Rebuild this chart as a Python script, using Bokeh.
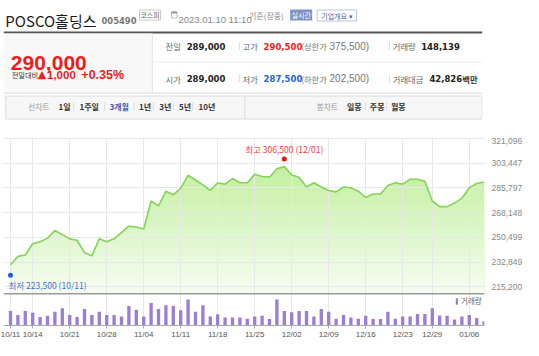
import numpy as np
from bokeh.plotting import figure
from bokeh.layouts import column
from bokeh.models import Range1d, FixedTicker, NumeralTickFormatter, Span, Legend, LegendItem
from bokeh.core.properties import value
from bokeh.embed import file_html
from bokeh.resources import INLINE

# ---------------- data ----------------
dates = ["10/11", "10/12", "10/13", "10/14", "10/17", "10/18", "10/19", "10/20", "10/21",
         "10/24", "10/25", "10/26", "10/27", "10/28", "10/31",
         "11/01", "11/02", "11/03", "11/04", "11/07", "11/08", "11/09", "11/10", "11/11",
         "11/14", "11/15", "11/16", "11/17", "11/18", "11/21", "11/22", "11/23", "11/24", "11/25",
         "11/28", "11/29", "11/30", "12/01", "12/02", "12/05", "12/06", "12/07", "12/08", "12/09",
         "12/12", "12/13", "12/14", "12/15", "12/16", "12/19", "12/20", "12/21", "12/22", "12/23",
         "12/26", "12/27", "12/28", "12/29", "01/02", "01/03", "01/04", "01/05", "01/06",
         "01/09", "01/10"]
close = [231000, 237000, 238000, 246000, 247500, 250000, 255500, 252500, 249500,
         248500, 239500, 237500, 249500, 247500, 249500,
         254000, 258500, 258000, 256500, 276500, 273000, 283500, 281000, 285500,
         295000, 291500, 288000, 284000, 289500, 288500, 292500, 289500, 289500, 295500,
         294000, 293500, 299500, 301000, 295000, 293500, 286500, 289500, 286500, 284000,
         283000, 286500, 286000, 283500, 279000, 281500, 281500, 287500, 289500, 288500,
         292000, 292000, 290500, 276500, 272500, 272500, 275000, 278500, 286000,
         289000, 290000]
volume = [517000, 379000, 517000, 458000, 300000, 345000, 493000, 620000, 379000,
          300000, 586000, 379000, 493000, 379000, 379000,
          320000, 699000, 562000, 320000, 803000, 586000, 723000, 699000, 541000,
          930000, 493000, 723000, 320000, 403000, 286000, 286000, 286000, 241000, 320000,
          345000, 231000, 930000, 517000, 472000, 517000, 517000, 320000, 586000, 493000,
          241000, 379000, 286000, 241000, 345000, 231000, 231000, 493000, 241000, 320000,
          320000, 413000, 413000, 620000, 355000, 345000, 217000, 320000, 379000,
          265000, 148139]
price_ticks = [215200, 232849, 250499, 268148, 285797, 303447, 321096]
date_tick_labels = ["10/11", "10/14", "10/21", "10/28", "11/04", "11/11", "11/18",
                    "11/25", "12/02", "12/09", "12/16", "12/23", "12/29", "01/06"]
hi_price, hi_date = 306500, "12/01"
lo_price, lo_date = 223500, "10/11"

stock_name, stock_code, market = "POSCO홀딩스", "005490", "코스피"
stamp_time, stamp_note = "2023.01.10 11:10", "기준(장중)"
cur_price, change, change_pct = 290000, 1000, 0.35
prev_close, open_price = 289000, 289000
day_high, upper_limit = 290500, 375500
day_low, lower_limit = 287500, 202500
trade_volume, trade_amount = 148139, 42826
period_tabs = ["1일", "1주일", "3개월", "1년", "3년", "5년", "10년"]
candle_tabs = ["일봉", "주봉", "월봉"]

# ---------------- styles ----------------
RED = "#f01c1c"
BLUE = "#1f63d6"
KFONT = "Noto Sans CJK KR"
NFONT = "Liberation Sans"
BFONT = "DejaVu Sans"
W = 523

# ---------------- header ----------------
HH = 137
p1 = figure(width=W, height=HH, x_range=Range1d(0, W), y_range=Range1d(HH, 0),
            x_axis_location=None, y_axis_location=None, min_border=0,
            output_backend="svg", toolbar_location=None, outline_line_color=None)
p1.grid.visible = False


def T(x, y, s, size, color, font=NFONT, style="normal", align="left", baseline="middle"):
    p1.text(x=[x], y=[y], text=[s], text_font=value(font), text_font_size=value(f"{size}px"),
            text_color=color, text_font_style=style, text_align=align, text_baseline=baseline)


def box(l, r, t, b, fill, line=None, lw=1):
    p1.quad(left=[l], right=[r], top=[t], bottom=[b], fill_color=fill,
            line_color=line, line_width=lw)


def seg(x0, y0, x1, y1, color, lw=1):
    p1.segment(x0=[x0], y0=[y0], x1=[x1], y1=[y1], line_color=color, line_width=lw)


# title row
T(2, 19.5, stock_name, 15, "#1a1a1a", font=KFONT, baseline="alphabetic")
T(107, 19.5, stock_code, 8.4, "#777", font=BFONT, style="bold", baseline="alphabetic")
box(148.5, 171.5, 9.5, 19.5, "white", "#c9c9c9")
T(160, 14.5, market, 7, "#666", font=KFONT, align="center")
box(183.5, 189.5, 11.5, 17.5, "white", "#bbbbbb")
seg(183.5, 12, 189.5, 12, "#999", 2)
T(191, 18.5, stamp_time, 9.5, "#888", baseline="alphabetic")
T(268, 14.5, stamp_note, 8, "#888", font=KFONT)
box(313, 337, 9, 20, "#8094c3", None)
T(325, 14.5, "실시간", 7, "white", font=KFONT, align="center")
box(342.5, 385.5, 9.5, 20.5, "white", "#b5c3e2")
T(364, 15, "기업개요 ▾", 7, "#4769b0", font=KFONT, align="center")

seg(0, 32, W, 32, "#555", 2)

# info box
box(0, 162.5, 33, 92, "#f8f8f8", None)
seg(162.5, 33, 162.5, 92, "#e2e2e2")
seg(163, 61.5, W, 61.5, "#ececec")
seg(0, 92.5, W, 92.5, "#d9d9d9")

T(8, 62, f"{cur_price:,}", 21, RED, style="bold", baseline="alphabetic")
T(9, 74, "전일대비", 7.2, "#333", font=KFONT)
T(37.5, 73.5, "▲", 11, RED, font=BFONT)
T(47.5, 74, f"{change:,}", 11.5, RED, style="bold")
seg(80.5, 69, 80.5, 78, "#dddddd")
T(85, 74, f"+{change_pct:.2f}%", 12.5, RED, style="bold")

rows = [
    (45.5, "전일", prev_close, "고가", day_high, RED, "상한가", upper_limit, "거래량", trade_volume, ""),
    (78.0, "시가", open_price, "저가", day_low, BLUE, "하한가", lower_limit, "거래대금", trade_amount, "백만"),
]
for (yy, l1, v1, l2, v2, c2, l3, v3, l4, v4, unit) in rows:
    T(177, yy, l1, 8.3, "#666", font=KFONT)
    T(200, yy, f"{v1:,}", 8.5, "#222", font=BFONT, style="bold")
    seg(257.5, yy - 4, 257.5, yy + 4, "#dddddd")
    T(261, yy, l2, 8.3, "#666", font=KFONT)
    T(284, yy, f"{v2:,}", 8.5, c2, font=BFONT, style="bold")
    T(325, yy, f"({l3}", 8.3, "#777", font=KFONT)
    T(356, yy, f"{v3:,})", 10, "#777")
    seg(421.5, yy - 4, 421.5, yy + 4, "#dddddd")
    T(425, yy, l4, 8.3, "#666", font=KFONT)
    vx = 456 if not unit else 465
    T(vx, yy, f"{v4:,}", 8.5, "#222", font=BFONT, style="bold")
    if unit:
        T(501, yy, unit, 8.3, "#333", font=KFONT, style="bold")

# tab bar
box(2.5, W - 0.5, 95.5, 118.5, "#f7f7f7", "#dcdcdc")
TY = 106
T(26.7, TY, "선차트", 7.8, "#999", font=KFONT)
tab_x = [60, 83, 115.7, 148, 170, 191.7, 213]
sep_x = [76.5, 110.5, 142.5, 163.5, 185.5, 206.5]
for tx, lab in zip(tab_x, period_tabs):
    col = "#3b5cb8" if lab == "3개월" else "#333"
    T(tx, TY, lab, 8, col, font=KFONT, style="bold")
for sx in sep_x:
    seg(sx, TY - 4, sx, TY + 4, "#dddddd")
seg(263.5, 95.5, 263.5, 118.5, "#dcdcdc")
T(341.7, TY, "봉차트", 7.8, "#999", font=KFONT)
for tx, lab in zip([375, 400, 423], candle_tabs):
    T(tx, TY, lab, 8, "#333", font=KFONT, style="bold")
for sx in [395.5, 418.5]:
    seg(sx, TY - 4, sx, TY + 4, "#dddddd")

# ---------------- price + volume chart ----------------
idx = np.arange(len(dates))
close_a = np.array(close, dtype=float)
FRAME_W, FRAME_H = 481, 188
PX_PER_DAY = 7.4
X0 = -7 / PX_PER_DAY
Y_LO, Y_HI = 187700, 321784
PRICE_FLOOR = 210400
VOL_TOP = 6720000

p2 = figure(frame_width=FRAME_W, frame_height=FRAME_H,
            x_range=Range1d(X0, X0 + FRAME_W / PX_PER_DAY), y_range=Range1d(Y_LO, Y_HI),
            y_axis_location="right", output_backend="svg", toolbar_location=None,
            min_border_left=3, min_border_right=39, min_border_top=0, min_border_bottom=0,
            outline_line_color=None)
p2.extra_y_ranges = {"vol": Range1d(0, VOL_TOP)}

# gradient area under the price line (stacked bands, darker at top)
top_c = np.array([196, 240, 160])
bot_c = np.array([248, 253, 244])
levels = np.linspace(max(close) + 2000, PRICE_FLOOR, 36)
for lev in levels:
    t = (lev - PRICE_FLOOR) / (levels[0] - PRICE_FLOOR)
    c = (bot_c + (top_c - bot_c) * t).astype(int)
    r = p2.varea(x=idx, y1=np.full(len(idx), PRICE_FLOOR), y2=np.minimum(close_a, lev),
                 fill_color="#%02x%02x%02x" % tuple(c), fill_alpha=1.0)
    r.level = "image"

p2.line(idx, close_a, line_color="#84d35c", line_width=1.6)

# volume bars
vr = p2.vbar(x=idx, top=volume, width=0.45, y_range_name="vol",
             fill_color="#9b7fd0", line_color=None)

# separator between price and volume panes
p2.add_layout(Span(location=PRICE_FLOOR, dimension="width", line_color="#9a9a9a", line_width=1.5))

# high / low markers
hi_i = dates.index(hi_date)
lo_i = dates.index(lo_date)
p2.scatter([hi_i], [hi_price], size=5, fill_color="#f01010", line_color=None)
p2.text([hi_i], [hi_price], text=[f"최고 {hi_price:,} ({hi_date})"], text_font=value(KFONT),
        text_font_size=value("8.5px"), text_color="#f23b3b", text_align="center",
        text_baseline="middle", y_offset=-10)
p2.scatter([lo_i], [lo_price], size=5, fill_color="#1a5fd8", line_color=None)
p2.text([lo_i], [lo_price], text=[f"최저 {lo_price:,} ({lo_date})"], text_font=value(KFONT),
        text_font_size=value("8.5px"), text_color="#3a74d6", text_align="left",
        text_baseline="middle", x_offset=-2, y_offset=10)

# axes & grids
tick_pos = [dates.index(d) for d in date_tick_labels]
xa = p2.xaxis[0]
xa.ticker = FixedTicker(ticks=tick_pos)
xa.major_label_overrides = {i: d for i, d in zip(tick_pos, date_tick_labels)}
xa.major_label_text_align = "left"
xa.major_label_text_font = NFONT
xa.major_label_text_font_size = "8px"
xa.major_label_text_color = "#555"
xa.major_label_standoff = 1
xa.major_tick_out = 3
xa.major_tick_in = 0
xa.minor_tick_line_color = None
xa.axis_line_color = "#aaaaaa"
xa.major_tick_line_color = "#aaaaaa"

ya = p2.yaxis[0]
ya.ticker = FixedTicker(ticks=price_ticks)
ya.formatter = NumeralTickFormatter(format="0,0")
ya.major_label_text_font = NFONT
ya.major_label_text_font_size = "8.5px"
ya.major_label_text_color = "#888"
ya.major_label_standoff = 7
ya.major_tick_out = 0
ya.major_tick_in = 0
ya.minor_tick_line_color = None
ya.axis_line_color = None

p2.xgrid.ticker = FixedTicker(ticks=tick_pos)
p2.ygrid.ticker = FixedTicker(ticks=price_ticks)
p2.grid.grid_line_color = "#e8e8e8"
p2.grid.grid_line_width = 1

legend = Legend(items=[LegendItem(label="거래량", renderers=[vr])], location=(452, 19),
                glyph_width=3, glyph_height=8, label_text_font=KFONT,
                label_text_font_size="7.5px", label_text_color="#666",
                border_line_color=None, background_fill_alpha=0, padding=0, margin=0,
                label_standoff=3, spacing=0)
p2.add_layout(legend, "center")

layout = column(p1, p2, spacing=0)
open("out.html", "w").write(file_html(layout, INLINE))
